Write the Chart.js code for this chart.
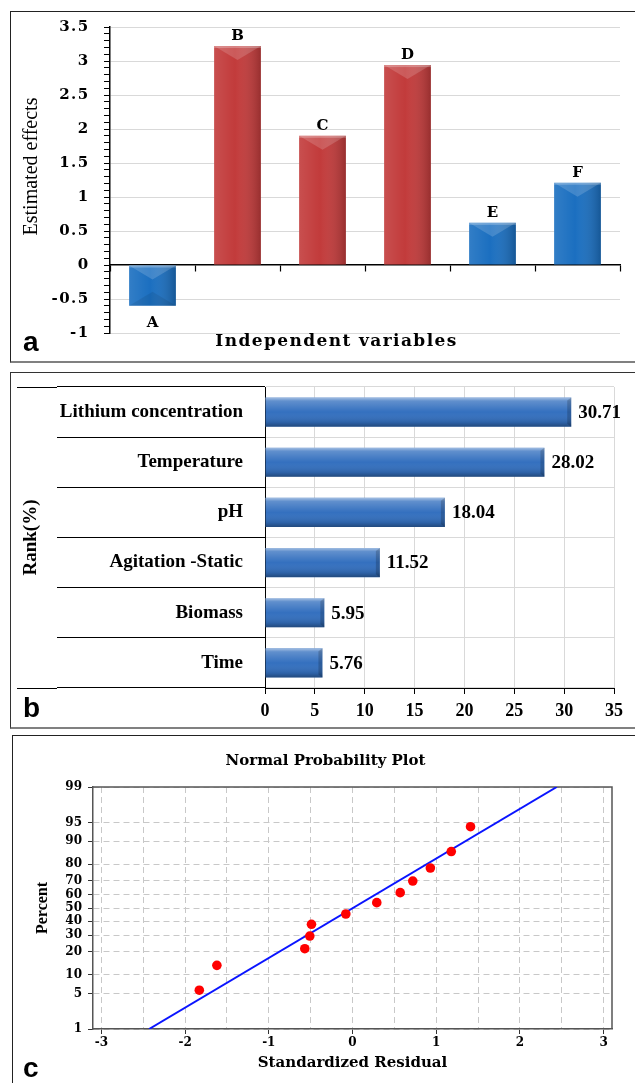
<!DOCTYPE html>
<html><head><meta charset="utf-8">
<script src="https://cdn.jsdelivr.net/npm/chart.js@4.4.1/dist/chart.umd.min.js"></script>
<style>
html,body{margin:0;padding:0;background:#fff;}
body{position:relative;width:635px;height:1083px;overflow:hidden;}
.frame{position:absolute;box-sizing:border-box;}
canvas{position:absolute;left:0;}
.tag{position:absolute;font:bold 28px "Liberation Sans",Arial,sans-serif;line-height:28px;color:#000;}
</style></head>
<body>
<div class="frame" style="left:10px;top:11px;width:640px;height:352px;border:1px solid #222;border-bottom:2px solid #808080;"></div>
<div class="frame" style="left:10px;top:372px;width:640px;height:357px;border:1px solid #333;border-bottom:2px solid #808080;"></div>
<div class="frame" style="left:12px;top:735px;width:640px;height:400px;border:1px solid #222;"></div>
<canvas id="ca" width="635" height="365" style="top:0"></canvas>
<canvas id="cb" width="635" height="358" style="top:372px"></canvas>
<canvas id="cc" width="635" height="348" style="top:735px"></canvas>
<div class="tag" style="left:23px;top:328px">a</div>
<div class="tag" style="left:23px;top:694px">b</div>
<div class="tag" style="left:23px;top:1054px">c</div>
<script>
// ---------- Panel a data
const variablesA = ['A','B','C','D','E','F'];
const effectsA = [-0.6, 3.22, 1.9, 2.94, 0.62, 1.21];
const effectTicksA = [-1,-0.5,0,0.5,1,1.5,2,2.5,3,3.5];
// ---------- Panel b data
const factorsB = ['Lithium concentration','Temperature','pH','Agitation -Static','Biomass','Time'];
const rankB = [30.71, 28.02, 18.04, 11.52, 5.95, 5.76];
const rankTicksB = [0,5,10,15,20,25,30,35];
// ---------- Panel c data
const residualsC = [-1.83,-1.62,-0.57,-0.51,-0.49,-0.08,0.29,0.57,0.72,0.93,1.18,1.41];
const percentsC = [5.7,13.5,21.7,29.5,37.7,45.4,54.1,61.6,69.8,77.9,86.1,94.1];
const fitLineResidualC = [-2.43, 2.44];
const fitLinePercentC = [1, 99];
const percentTicksC = [1,5,10,20,30,40,50,60,70,80,90,95,99];
const residualTicksC = [-3,-2,-1,0,1,2,3];

// ---------- styles
const barColorsA = ['#1b6fc0','#c23b3b','#c23b3b','#c23b3b','#1b6fc0','#1b6fc0'];
const dv = s => ({family:"'DejaVu Serif', serif", weight:'bold', size:s});
const tb = s => ({family:"'Liberation Serif', serif", weight:'bold', size:s});

// inverse normal CDF (probability axis transform)
function probit(p){
  const a=[-3.969683028665376e+01,2.209460984245205e+02,-2.759285104469687e+02,1.383577518672690e+02,-3.066479806614716e+01,2.506628277459239e+00];
  const b=[-5.447609879822406e+01,1.615858368580409e+02,-1.556989798598866e+02,6.680131188771972e+01,-1.328068155288572e+01];
  const c=[-7.784894002430293e-03,-3.223964580411365e-01,-2.400758277161838e+00,-2.549671010243609e+00,4.374664141464968e+00,2.938163982698783e+00];
  const d=[7.784695709041462e-03,3.224671290700398e-01,2.445134137142996e+00,3.754408661907416e+00];
  const pl=0.02425, ph=1-pl; let q,r;
  if(p<pl){q=Math.sqrt(-2*Math.log(p));return (((((c[0]*q+c[1])*q+c[2])*q+c[3])*q+c[4])*q+c[5])/((((d[0]*q+d[1])*q+d[2])*q+d[3])*q+1);}
  if(p<=ph){q=p-0.5;r=q*q;return (((((a[0]*r+a[1])*r+a[2])*r+a[3])*r+a[4])*r+a[5])*q/(((((b[0]*r+b[1])*r+b[2])*r+b[3])*r+b[4])*r+1);}
  q=Math.sqrt(-2*Math.log(1-p));return -(((((c[0]*q+c[1])*q+c[2])*q+c[3])*q+c[4])*q+c[5])/((((d[0]*q+d[1])*q+d[2])*q+d[3])*q+1);
}

Chart.defaults.color = '#000';
Chart.defaults.font.family = "'Liberation Serif', serif";

// ================= Panel a =================
const isMajorA = v => effectTicksA.some(t => Math.abs(t - v) < 1e-6);
const decorA = {
  id:'decorA',
  beforeDraw(chart){ chart.ctx.letterSpacing = '0px'; },
  afterLayout(chart){
    const xt = chart.scales.xt; xt.left -= 28.5; xt.right -= 28.5;
    const yt = chart.scales.yt; yt.top -= 13.5; yt.bottom -= 13.5;
  },
  afterDatasetsDraw(chart){
    const ctx = chart.ctx, meta = chart.getDatasetMeta(0);
    ctx.save();
    meta.data.forEach((el,i) => {
      const w = el.width, l = el.x - w/2, r = el.x + w/2;
      const t = Math.min(el.y, el.base), b = Math.max(el.y, el.base), h = b - t;
      const g = ctx.createLinearGradient(l,0,r,0);
      g.addColorStop(0,'rgba(255,255,255,0.10)');
      g.addColorStop(0.45,'rgba(255,255,255,0)');
      g.addColorStop(1,'rgba(0,0,0,0.22)');
      ctx.fillStyle = g; ctx.fillRect(l,t,w,h);
      const dd = Math.min(14, h/2);
      ctx.fillStyle = 'rgba(255,255,255,0.16)';
      ctx.beginPath(); ctx.moveTo(l,t); ctx.lineTo(r,t); ctx.lineTo(el.x,t+dd); ctx.closePath(); ctx.fill();
      if (effectsA[i] < 0) {
        ctx.fillStyle = 'rgba(0,0,0,0.08)';
        ctx.beginPath(); ctx.moveTo(l,b); ctx.lineTo(r,b); ctx.lineTo(el.x,b-dd); ctx.closePath(); ctx.fill();
      }
      ctx.fillStyle = 'rgba(255,255,255,0.25)'; ctx.fillRect(l,t,w,2);
      ctx.fillStyle = '#000'; ctx.font = "bold 15px 'DejaVu Serif', serif";
      ctx.textAlign = 'center'; ctx.textBaseline = 'alphabetic';
      if (effectsA[i] >= 0) ctx.fillText(variablesA[i], el.x, el.y - 6);
      else ctx.fillText(variablesA[i], el.x, el.y + 21);
    });
    ctx.restore();
    ctx.letterSpacing = '1.4px';
  },
  afterDraw(chart){ chart.ctx.letterSpacing = '0px'; }
};

new Chart(document.getElementById('ca'), {
  type:'bar',
  data:{labels:variablesA, datasets:[{data:effectsA, backgroundColor:barColorsA, borderWidth:0,
    barPercentage:0.55, categoryPercentage:1, xAxisID:'x', yAxisID:'y'}]},
  options:{
    responsive:false, devicePixelRatio:1, animation:false,
    layout:{padding:{top:27, right:15, left:0, bottom:0}},
    plugins:{legend:{display:false}, tooltip:{enabled:false}},
    scales:{
      x:{type:'category', position:{y:0}, offset:true, ticks:{display:false},
         grid:{offset:true, drawOnChartArea:false, drawTicks:true, tickLength:6, tickColor:'#000', tickWidth:1.2},
         border:{color:'#000', width:1.5}},
      xt:{type:'category', position:'bottom', ticks:{display:false}, grid:{display:false, z:1}, border:{display:false},
          title:{display:true, text:'Independent variables', color:'#000', font:dv(17), padding:{top:0, bottom:13}},
          afterFit(s){ s.height = 32; }},
      yt:{type:'linear', position:'left', weight:1, ticks:{display:false}, grid:{display:false}, border:{display:false},
          title:{display:true, text:'Estimated effects', color:'#000', font:{family:"'Liberation Serif', serif", size:20}, padding:{top:19.7, bottom:0}},
          afterFit(s){ s.width = 50; }},
      y:{type:'linear', position:'left', weight:0, min:-1, max:3.5,
         afterBuildTicks(s){
           const t = [];
           for (let i = 0; i < effectTicksA.length; i++){
             t.push({value:effectTicksA[i]});
             if (i < effectTicksA.length - 1){
               for (let k = 1; k < 5; k++) t.push({value: effectTicksA[i] + (effectTicksA[i+1]-effectTicksA[i])*k/5});
             }
           }
           t.sort((p,q) => p.value - q.value);
           s.ticks = t;
         },
         ticks:{autoSkip:false, z:1, padding:14.5, color:'#000', font:dv(15), callback:v => isMajorA(v) ? String(v) : ''},
         grid:{color:c => (c.tick && isMajorA(c.tick.value) && Math.abs(c.tick.value) > 1e-6) ? '#d9d9d9' : 'rgba(0,0,0,0)',
               tickColor:'#000', tickLength:6, drawTicks:true},
         border:{color:'#000', width:1.5},
         afterFit(s){ s.width = 60; }}
    }
  },
  plugins:[decorA]
});

// ================= Panel b =================
const alignPx = (v, w) => Math.round(v - w/2) + w/2;
const decorB = {
  id:'decorB',
  beforeDatasetsDraw(chart){
    const ctx = chart.ctx, a = chart.chartArea;
    ctx.save(); ctx.strokeStyle = '#000'; ctx.lineWidth = 1;
    [a.top, a.bottom].forEach(y => {
      const yy = alignPx(y, 1);
      ctx.beginPath(); ctx.moveTo(a.left - 248, yy); ctx.lineTo(a.left - 208, yy); ctx.stroke();
    });
    ctx.restore();
  },
  afterDatasetsDraw(chart){
    const ctx = chart.ctx, meta = chart.getDatasetMeta(0);
    ctx.save();
    meta.data.forEach((el,i) => {
      const h = el.height, t = el.y - h/2, l = Math.min(el.x, el.base), r = Math.max(el.x, el.base), w = r - l;
      const g = ctx.createLinearGradient(0,t,0,t+h);
      g.addColorStop(0,'rgba(255,255,255,0.55)');
      g.addColorStop(0.12,'rgba(255,255,255,0.22)');
      g.addColorStop(0.5,'rgba(255,255,255,0)');
      g.addColorStop(0.85,'rgba(0,0,0,0.12)');
      g.addColorStop(1,'rgba(0,0,0,0.35)');
      ctx.fillStyle = g; ctx.fillRect(l,t,w,h);
      ctx.fillStyle = 'rgba(0,0,0,0.18)';
      ctx.beginPath(); ctx.moveTo(r,t); ctx.lineTo(r,t+h); ctx.lineTo(r-4,t+h-3); ctx.lineTo(r-4,t+3); ctx.closePath(); ctx.fill();
      ctx.fillStyle = '#000'; ctx.font = "bold 19px 'Liberation Serif', serif";
      ctx.textAlign = 'left'; ctx.textBaseline = 'middle';
      ctx.fillText(rankB[i].toFixed(2), r + 7, el.y + 1);
    });
    ctx.restore();
  }
};

new Chart(document.getElementById('cb'), {
  type:'bar',
  data:{labels:factorsB, datasets:[{data:rankB, backgroundColor:'#3470bf', borderWidth:0, barPercentage:0.58, categoryPercentage:1}]},
  options:{
    indexAxis:'y', responsive:false, devicePixelRatio:1, animation:false,
    layout:{padding:{top:15, right:21, left:0, bottom:0}},
    plugins:{legend:{display:false}, tooltip:{enabled:false}},
    scales:{
      x:{type:'linear', position:'bottom', min:0, max:35,
         afterBuildTicks(s){ s.ticks = rankTicksB.map(v => ({value:v})); },
         ticks:{autoSkip:false, color:'#000', font:tb(18), padding:7},
         grid:{color:'#d9d9d9', tickColor:'#000', tickLength:6},
         border:{color:'#000', width:1},
         afterFit(s){ s.height = 42; }},
      y:{type:'category', position:'left', offset:true,
         ticks:{autoSkip:false, color:'#000', font:tb(19), padding:-186},
         grid:{offset:true, color:'#d9d9d9', tickColor:'#000', tickLength:208, drawTicks:true},
         border:{color:'#000', width:1},
         title:{display:true, text:'Rank(%)', color:'#000', font:tb(19), padding:{top:19.6, bottom:0}},
         afterFit(s){ s.width = 265; }}
    }
  },
  plugins:[decorB]
});

// ================= Panel c =================
const dotsC = residualsC.map((r,i) => ({x:r, y:probit(percentsC[i]/100)}));
const lineC = fitLineResidualC.map((r,i) => ({x:r, y:probit(fitLinePercentC[i]/100)}));
const decorC = {
  id:'decorC',
  afterLayout(chart){ const t = chart.titleBlock; if (t){ t.left += 19.5; t.right += 19.5; } },
  beforeDatasetsDraw(chart){
    const {ctx, chartArea:a} = chart;
    ctx.save(); ctx.strokeStyle = '#555'; ctx.lineWidth = 1.5;
    ctx.beginPath(); ctx.moveTo(a.left, a.top); ctx.lineTo(a.right, a.top); ctx.lineTo(a.right, a.bottom); ctx.stroke();
    ctx.restore();
  }
};

new Chart(document.getElementById('cc'), {
  type:'scatter',
  data:{datasets:[
    {data:dotsC, backgroundColor:'#ff0000', borderWidth:0, pointRadius:4.8, showLine:false},
    {data:lineC, type:'line', showLine:true, borderColor:'#0a14ff', borderWidth:2, pointRadius:0, fill:false}
  ]},
  options:{
    responsive:false, devicePixelRatio:1, animation:false,
    layout:{padding:{top:0, right:23, left:0, bottom:0}},
    plugins:{legend:{display:false}, tooltip:{enabled:false},
      title:{display:true, text:'Normal Probability Plot', color:'#000', font:dv(15), padding:{top:17, bottom:17}}},
    scales:{
      x:{type:'linear', position:'bottom', min:-3.1, max:3.1,
         afterBuildTicks(s){
           const t = [];
           residualTicksC.forEach((v,i) => {
             t.push({value:v});
             if (i < residualTicksC.length - 1) t.push({value:(v + residualTicksC[i+1])/2});
           });
           s.ticks = t;
         },
         ticks:{autoSkip:false, color:'#000', font:dv(12), padding:1.8, callback:v => Number.isInteger(v) ? String(v) : ''},
         grid:{color:'#c8c8c8', tickLength:5, tickColor:c => (c.tick && Number.isInteger(c.tick.value)) ? '#333' : 'rgba(0,0,0,0)'},
         border:{color:'#555', width:1.5, dash:[6,4]},
         title:{display:true, text:'Standardized Residual', color:'#000', font:dv(15), padding:{top:0, bottom:11}},
         afterFit(s){ s.height = 54; }},
      y:{type:'linear', position:'left', min:probit(0.01), max:probit(0.99),
         afterBuildTicks(s){ s.ticks = percentTicksC.map(p => ({value:probit(p/100)})); },
         ticks:{autoSkip:false, color:'#000', font:dv(12), padding:6, callback:(v,i) => String(percentTicksC[i])},
         grid:{color:'#c8c8c8', tickColor:'#333', tickLength:5},
         border:{color:'#555', width:1.5, dash:[6,4]},
         title:{display:true, text:'Percent', color:'#000', font:tb(16), padding:{top:33.4, bottom:0}},
         afterFit(s){ s.width = 93; }}
    }
  },
  plugins:[decorC]
});
</script>
</body></html>
